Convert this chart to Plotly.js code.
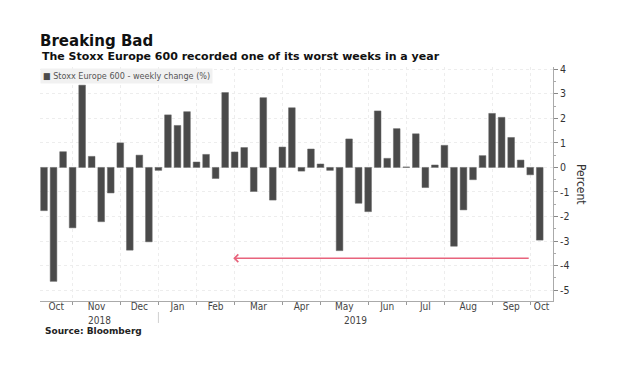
<!DOCTYPE html>
<html>
<head>
<meta charset="utf-8">
<script src="https://cdn.plot.ly/plotly-3.0.1.min.js"></script>
<style>html,body{margin:0;padding:0;background:#fff;}#chart{width:624px;height:377px;}</style>
</head>
<body>
<div id="chart"></div>
<script>
// Week-ending dates (Fridays)
const weeks = [
  '2018-10-05','2018-10-12','2018-10-19','2018-10-26','2018-11-02','2018-11-09','2018-11-16','2018-11-23','2018-11-30',
  '2018-12-07','2018-12-14','2018-12-21','2018-12-28','2019-01-04','2019-01-11','2019-01-18','2019-01-25',
  '2019-02-01','2019-02-08','2019-02-15','2019-02-22','2019-03-01','2019-03-08','2019-03-15','2019-03-22','2019-03-29',
  '2019-04-05','2019-04-12','2019-04-19','2019-04-26','2019-05-03','2019-05-10','2019-05-17','2019-05-24','2019-05-31',
  '2019-06-07','2019-06-14','2019-06-21','2019-06-28','2019-07-05','2019-07-12','2019-07-19','2019-07-26',
  '2019-08-02','2019-08-09','2019-08-16','2019-08-23','2019-08-30','2019-09-06','2019-09-13','2019-09-20','2019-09-27',
  '2019-10-04'
];
// Stoxx Europe 600 weekly change (%)
const weeklyChange = [
  -1.76, -4.64, 0.64, -2.46, 3.35, 0.45, -2.21, -1.04, 1.00,
  -3.37, 0.50, -3.03, -0.12, 2.14, 1.71, 2.27, 0.22,
  0.53, -0.45, 3.05, 0.63, 0.81, -0.98, 2.84, -1.33, 0.83,
  2.43, -0.15, 0.75, 0.14, -0.12, -3.39, 1.16, -1.46, -1.80,
  2.30, 0.37, 1.58, 0.02, 1.37, -0.82, 0.10, 0.90,
  -3.21, -1.73, -0.50, 0.48, 2.20, 2.04, 1.22, 0.30, -0.30,
  -2.96
];
const monthNames = ['Jan','Feb','Mar','Apr','May','Jun','Jul','Aug','Sep','Oct','Nov','Dec'];
const yTicks = [-5, -4, -3, -2, -1, 0, 1, 2, 3, 4];
const seriesName = 'Stoxx Europe 600 - weekly change (%)';
const arrowLevel = -3.7;
const arrowFromWeek = '2019-09-27';
const arrowToWeek = '2019-02-22';

const FONT = '"DejaVu Sans Condensed", "Liberation Sans", sans-serif';
const xIdx = weeks.map((d, i) => i);
const xMin = -0.42, xMax = 53.39;

// month boundaries: tick at last week of the previous month
const boundaries = [];
for (let i = 1; i < weeks.length; i++) {
  if (weeks[i].slice(5, 7) !== weeks[i - 1].slice(5, 7)) boundaries.push(i - 1);
}
const edges = [xMin].concat(boundaries, [xMax]);
const monthCenters = [], monthLabels = [];
for (let k = 0; k < edges.length - 1; k++) {
  monthCenters.push((edges[k] + edges[k + 1]) / 2);
  const firstWeek = k === 0 ? weeks[0] : weeks[boundaries[k - 1] + 1];
  monthLabels.push(monthNames[parseInt(firstWeek.slice(5, 7), 10) - 1]);
}
// year boundary
let yearEdge = null;
for (let i = 1; i < weeks.length; i++) {
  if (weeks[i].slice(0, 4) !== weeks[i - 1].slice(0, 4)) { yearEdge = i - 1; break; }
}

const trace = {
  type: 'bar', x: xIdx, y: weeklyChange, name: seriesName,
  width: 0.7, marker: {color: '#4a4a4a', line: {color: '#666', width: 0.5}},
  showlegend: false, hoverinfo: 'y'
};
const helper = {type: 'scatter', x: [xMin, xMax], y: [0, 0], xaxis: 'x2', mode: 'lines',
  line: {width: 0, color: 'rgba(0,0,0,0)'}, showlegend: false, hoverinfo: 'skip'};

const layout = {
  width: 624, height: 377,
  margin: {l: 40, r: 71, t: 67, b: 76},
  paper_bgcolor: '#fff', plot_bgcolor: '#fff',
  font: {family: FONT, color: '#444'},
  title: {text: '<b>Breaking Bad</b>', x: 40 / 624, xanchor: 'left', xref: 'container',
          y: 1 - 41 / 377, yref: 'container', yanchor: 'middle',
          font: {family: '"DejaVu Sans", sans-serif', size: 15, color: '#111'}},
  bargap: 0.3,
  xaxis: {
    range: [xMin, xMax], tickmode: 'array', tickvals: boundaries, ticktext: boundaries.map(() => ''),
    ticks: 'outside', ticklen: 3, tickcolor: '#999', showline: true, linecolor: '#aaa', linewidth: 1,
    showgrid: true, gridcolor: '#ededed', griddash: 'dot', zeroline: false, fixedrange: true
  },
  xaxis2: {
    overlaying: 'x', anchor: 'y', side: 'bottom', range: [xMin, xMax],
    tickmode: 'array', tickvals: monthCenters, ticktext: monthLabels, ticks: '',
    showgrid: false, showline: false, zeroline: false, ticklabelstandoff: -2,
    tickfont: {family: FONT, size: 10, color: '#444'}
  },
  yaxis: {
    side: 'right', range: [-5.44, 4.09], tickmode: 'array', tickvals: yTicks, ticktext: yTicks.map(v => String(v)),
    ticks: 'outside', ticklen: 4, tickcolor: '#888', showline: true, linecolor: '#aaa', linewidth: 1,
    showgrid: true, gridcolor: '#ededed', griddash: 'dot', zeroline: false,
    tickfont: {family: FONT, size: 10.5, color: '#333'},
    minor: {ticks: 'outside', ticklen: 2, dtick: 0.5, tickcolor: '#aaa', showgrid: false}
  },
  shapes: [
    {type: 'line', xref: 'x', yref: 'paper', x0: yearEdge, x1: yearEdge, y0: -0.047, y1: -0.094,
     line: {color: '#d0d0d0', width: 1}}
  ],
  annotations: [
    {xref: 'paper', yref: 'paper', x: 0, y: 1.047, xanchor: 'left', yanchor: 'middle', showarrow: false,
     text: '<b>The Stoxx Europe 600 recorded one of its worst weeks in a year</b>',
     font: {family: '"DejaVu Sans", sans-serif', size: 11, color: '#111'}},
    {xref: 'paper', yref: 'paper', x: 0, y: 0.9615, xanchor: 'left', yanchor: 'middle', showarrow: false,
     text: '<span style="color:#4a4a4a">■</span> ' + seriesName, bgcolor: '#f1f1f1', borderpad: 2,
     font: {family: FONT, size: 9, color: '#555'}},
    {xref: 'x', yref: 'paper', x: (xMin + yearEdge) / 2, y: -0.084, showarrow: false, yanchor: 'middle',
     text: weeks[0].slice(0, 4), font: {family: FONT, size: 10, color: '#444'}},
    {xref: 'x', yref: 'paper', x: (yearEdge + xMax) / 2, y: -0.084, showarrow: false, yanchor: 'middle',
     text: weeks[weeks.length - 1].slice(0, 4), font: {family: FONT, size: 10, color: '#444'}},
    {xref: 'paper', yref: 'paper', x: 0.005, y: -0.128, xanchor: 'left', yanchor: 'middle', showarrow: false,
     text: '<b>Source: Bloomberg</b>', font: {family: '"DejaVu Sans", sans-serif', size: 9, color: '#222'}},
    {xref: 'paper', yref: 'paper', x: 1.0, xshift: 28, y: 0.5, xanchor: 'center', showarrow: false, textangle: 90,
     text: 'Percent', font: {family: FONT, size: 12, color: '#333'}},
    {xref: 'x', yref: 'y', axref: 'x', ayref: 'y', x: weeks.indexOf(arrowToWeek) - 0.15, y: arrowLevel,
     ax: weeks.indexOf(arrowFromWeek), ay: arrowLevel, showarrow: true, text: '',
     arrowhead: 4, arrowsize: 1, arrowwidth: 1.5, arrowcolor: '#e8637c'}
  ]
};
Plotly.newPlot('chart', [trace, helper], layout, {displayModeBar: false, staticPlot: true});
</script>
</body>
</html>
